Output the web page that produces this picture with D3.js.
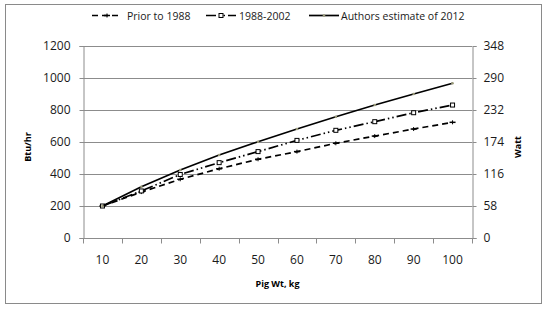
<!DOCTYPE html>
<html>
<head>
<meta charset="utf-8">
<script src="https://cdn.jsdelivr.net/npm/d3@7/dist/d3.min.js"></script>
<style>
  body { margin: 0; background: #fff; }
  svg { display: block; font-family: "Open Sans", "Liberation Sans", sans-serif; }
</style>
</head>
<body>
<svg id="chart" width="547" height="309"></svg>
<script>
// pig weight categories, kg
const weights = [10, 20, 30, 40, 50, 60, 70, 80, 90, 100];

// heat production, Btu/hr
const prior1988 = [200, 287, 367, 433, 492, 540, 592, 637, 681, 723];
const from1988to2002 = [200, 294, 397, 471, 540, 610, 673, 727, 783, 831];
const authors2012 = [200, 320, 425, 519, 602, 681, 758, 831, 900, 967];

const btuTicks = [0, 200, 400, 600, 800, 1000, 1200];
const wattTicks = [0, 58, 116, 174, 232, 290, 348];

const series = [
    {name: 'Prior to 1988', values: prior1988, dash: '6,4', marker: 'plus'},
    {name: '1988-2002', values: from1988to2002, dash: '10,3,1.5,3,1.5,3', marker: 'square'},
    {name: 'Authors estimate of 2012', values: authors2012, dash: null, marker: 'dot'}
];

const svg = d3.select('#chart');
const plotLeft = 83, plotRight = 472, plotTop = 46, plotBottom = 238;
const gridColor = '#8c8c8c';

// outer frame
svg.append('rect')
    .attr('x', 5.5).attr('y', 4.5)
    .attr('width', 536).attr('height', 299)
    .attr('fill', 'none').attr('stroke', '#8a8a8a');

const x = d3.scaleBand().domain(weights).range([plotLeft, plotRight]);
const y = d3.scaleLinear().domain([0, 1200]).range([plotBottom, plotTop]);
const y2 = d3.scaleLinear().domain([0, 348]).range([plotBottom, plotTop]);

// gridlines
svg.append('g')
    .selectAll('line')
    .data(btuTicks.filter(d => d > 0))
    .join('line')
    .attr('x1', plotLeft).attr('x2', plotRight)
    .attr('y1', d => Math.round(y(d)) + 0.5)
    .attr('y2', d => Math.round(y(d)) + 0.5)
    .attr('stroke', gridColor);

// left axis
const gLeft = svg.append('g')
    .attr('transform', `translate(${plotLeft + 0.5},0)`)
    .call(d3.axisLeft(y).tickValues(btuTicks).tickFormat(d3.format('d'))
        .tickSize(4).tickPadding(9));

// right axis
const gRight = svg.append('g')
    .attr('transform', `translate(${plotRight + 0.5},0)`)
    .call(d3.axisRight(y2).tickValues(wattTicks).tickFormat(d3.format('d'))
        .tickSize(4).tickPadding(7));

// bottom axis: ticks sit between categories
const gBottom = svg.append('g')
    .attr('transform', `translate(0,${plotBottom + 0.5})`);
gBottom.append('line')
    .attr('x1', plotLeft).attr('x2', plotRight + 1)
    .attr('stroke', gridColor);
gBottom.selectAll('line.tick')
    .data(weights.map(w => x(w)).concat([plotRight]))
    .join('line')
    .attr('class', 'tick')
    .attr('x1', d => Math.round(d) + 0.5)
    .attr('x2', d => Math.round(d) + 0.5)
    .attr('y1', 0).attr('y2', 5)
    .attr('stroke', gridColor);
gBottom.selectAll('text')
    .data(weights)
    .join('text')
    .attr('x', d => x(d) + x.bandwidth() / 2)
    .attr('y', 25)
    .attr('text-anchor', 'middle')
    .text(d => d);

[gLeft, gRight].forEach(g => {
    g.select('.domain').attr('stroke', gridColor);
    g.selectAll('.tick line').attr('stroke', gridColor);
});
svg.selectAll('text')
    .attr('font-size', 12)
    .attr('fill', '#1a1a1a')
    .attr('font-family', '"Open Sans", sans-serif');

// axis titles
svg.append('text')
    .attr('transform', 'translate(31,147) rotate(-90)')
    .attr('text-anchor', 'middle')
    .attr('font-size', 9).attr('font-weight', 'bold')
    .text('Btu/hr');
svg.append('text')
    .attr('transform', 'translate(521,147) rotate(-90)')
    .attr('text-anchor', 'middle')
    .attr('font-size', 9).attr('font-weight', 'bold')
    .text('Watt');
svg.append('text')
    .attr('x', (plotLeft + plotRight) / 2).attr('y', 287)
    .attr('text-anchor', 'middle')
    .attr('font-size', 9).attr('font-weight', 'bold')
    .text('Pig Wt, kg');

const cx = d => x(d) + x.bandwidth() / 2;
const line = d3.line().x((d, i) => cx(weights[i])).y(d => y(d));

function drawMarker(g, type, px, py) {
    if (type === 'plus') {
        g.append('line').attr('x1', px - 3).attr('x2', px + 3)
            .attr('y1', py).attr('y2', py).attr('stroke', '#000').attr('stroke-width', 1.5);
        g.append('line').attr('x1', px).attr('x2', px)
            .attr('y1', py - 2).attr('y2', py + 2).attr('stroke', '#000').attr('stroke-width', 1);
    } else if (type === 'square') {
        g.append('rect').attr('x', px - 2).attr('y', py - 2)
            .attr('width', 4).attr('height', 4)
            .attr('fill', '#fff').attr('stroke', '#000').attr('stroke-width', 1);
    } else {
        g.append('circle').attr('cx', px).attr('cy', py).attr('r', 1.3)
            .attr('fill', '#9a9a7a');
    }
}

series.forEach(s => {
    const g = svg.append('g');
    g.append('path')
        .datum(s.values)
        .attr('d', line)
        .attr('fill', 'none')
        .attr('stroke', '#000')
        .attr('stroke-width', 1.7)
        .attr('stroke-dasharray', s.dash);
    s.values.forEach((v, i) => drawMarker(g, s.marker, cx(weights[i]), y(v)));
});

// legend
const legendPos = [{x: 92, tx: 127}, {x: 206, tx: 239}, {x: 309, tx: 341}];
series.forEach((s, i) => {
    const g = svg.append('g');
    const p = legendPos[i];
    g.append('line')
        .attr('x1', p.x).attr('x2', p.x + 30)
        .attr('y1', 15.5).attr('y2', 15.5)
        .attr('stroke', '#000').attr('stroke-width', 1.7)
        .attr('stroke-dasharray', s.dash);
    drawMarker(g, s.marker, p.x + 15, 15.5);
    g.append('text')
        .attr('x', p.tx).attr('y', 19.5)
        .attr('font-size', 10.5)
        .attr('fill', '#1a1a1a')
        .text(s.name);
});
</script>
</body>
</html>
